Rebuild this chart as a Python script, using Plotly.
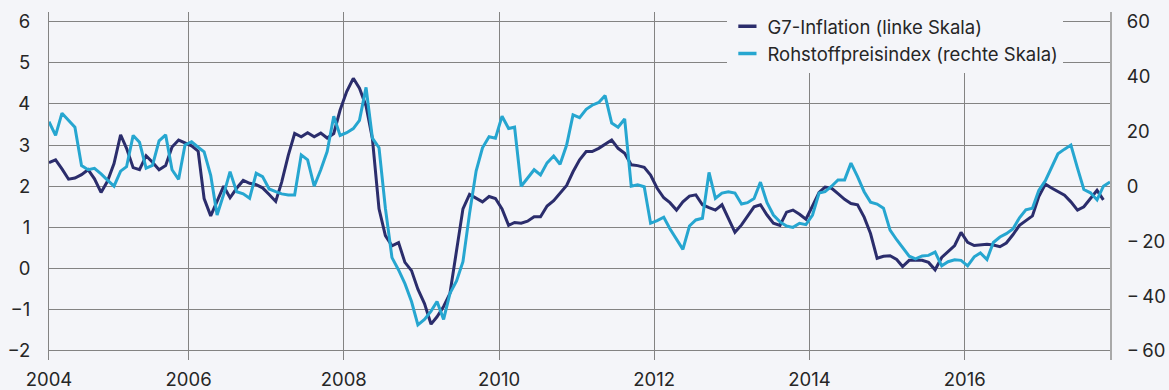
import pandas as pd
import plotly.graph_objects as go

# Monthly observations, March 2004 onwards (plotted mid-month)
inflation = [
    # 2004 (Mar-Dec)
    2.57, 2.64, 2.42, 2.17, 2.20, 2.28, 2.40, 2.18, 1.85, 2.12,
    # 2005
    2.55, 3.25, 2.92, 2.45, 2.40, 2.74, 2.58, 2.40, 2.50, 2.95, 3.12, 3.06,
    # 2006
    2.98, 2.85, 1.70, 1.28, 1.65, 2.00, 1.72, 1.95, 2.14, 2.07, 2.04, 1.96,
    # 2007
    1.80, 1.63, 2.10, 2.75, 3.28, 3.20, 3.30, 3.20, 3.29, 3.17, 3.28, 3.85,
    # 2008
    4.30, 4.62, 4.38, 3.95, 3.15, 1.45, 0.80, 0.55, 0.63, 0.15, -0.05, -0.50,
    # 2009
    -0.85, -1.35, -1.17, -0.92, -0.60, 0.50, 1.45, 1.80, 1.70, 1.62, 1.75, 1.70,
    # 2010
    1.45, 1.05, 1.12, 1.10, 1.15, 1.26, 1.26, 1.52, 1.65, 1.82, 2.02, 2.35,
    # 2011
    2.64, 2.84, 2.84, 2.92, 3.02, 3.12, 2.92, 2.80, 2.52, 2.50, 2.46, 2.27,
    # 2012
    1.95, 1.72, 1.60, 1.42, 1.62, 1.76, 1.79, 1.55, 1.48, 1.42, 1.55, 1.20,
    # 2013
    0.88, 1.06, 1.26, 1.50, 1.55, 1.30, 1.10, 1.05, 1.37, 1.42, 1.32, 1.20,
    # 2014
    1.52, 1.85, 1.98, 1.95, 1.82, 1.68, 1.58, 1.55, 1.25, 0.85, 0.25, 0.30,
    # 2015
    0.31, 0.22, 0.05, 0.20, 0.20, 0.20, 0.15, -0.03, 0.27, 0.42, 0.56, 0.88,
    # 2016
    0.64, 0.56, 0.58, 0.59, 0.57, 0.53, 0.62, 0.82, 1.05, 1.17, 1.28, 1.75,
    # 2017 (Jan-Oct)
    2.05, 1.95, 1.87, 1.78, 1.62, 1.42, 1.50, 1.70, 1.90, 1.67,
]

commodity = [
    # 2004 (Mar-Dec)
    23.5, 18.5, 26.6, 24.0, 21.5, 7.5, 6.0, 6.5, 4.5, 2.2,
    # 2005
    0.0, 5.5, 7.1, 18.5, 16.0, 6.6, 7.6, 16.5, 18.7, 6.0, 2.5, 15.0,
    # 2006
    16.2, 14.2, 12.5, 4.0, -10.5, -3.0, 5.3, -2.0, -2.8, -4.4, 4.7, 3.5,
    # 2007
    -1.0, -2.0, -2.8, -3.2, -3.2, 11.4, 9.6, 0.0, 6.0, 12.6, 25.5, 18.5,
    # 2008
    19.5, 21.0, 24.0, 36.0, 17.5, 14.0, -8.0, -26.0, -30.5, -35.5, -42.0, -50.5,
    # 2009
    -48.5, -45.5, -42.0, -48.5, -39.0, -34.5, -27.5, -10.0, 5.5, 14.0, 18.0, 17.5,
    # 2010
    25.5, 21.0, 21.5, 0.0, 3.0, 6.0, 4.1, 8.5, 11.0, 8.0, 15.0, 26.0,
    # 2011
    25.0, 28.0, 29.5, 30.5, 33.0, 23.0, 21.5, 24.5, 0.0, 0.5, -0.2, -13.5,
    # 2012
    -12.5, -11.3, -15.5, -19.5, -23.0, -14.5, -12.3, -11.7, 5.0, -4.4, -2.5, -2.0,
    # 2013
    -2.5, -6.5, -6.0, -4.5, 1.5, -6.0, -10.5, -13.0, -14.5, -15.0, -13.5, -14.0,
    # 2014
    -10.5, -2.5, -2.0, 0.0, 2.3, 2.3, 8.4, 3.5, -2.0, -5.8, -6.5, -8.0,
    # 2015
    -16.0, -19.5, -22.5, -25.5, -26.5, -25.4, -25.2, -24.0, -29.0, -27.5, -26.8, -27.0,
    # 2016
    -29.0, -25.7, -24.3, -26.7, -20.5, -18.5, -17.3, -15.6, -11.5, -8.6, -8.0, -1.5,
    # 2017 (Jan-Nov)
    2.0, 7.5, 11.8, 13.5, 15.0, 6.6, -1.2, -2.4, -5.0, 0.0, 1.5,
]

year_ticks = ["2004", "2006", "2008", "2010", "2012", "2014", "2016"]
left_ticks = [-2, -1, 0, 1, 2, 3, 4, 5, 6]
right_ticks = [-60, -40, -20, 0, 20, 40, 60]
right_tick_text = ["\u2212\u200960", "\u2212\u200940", "\u2212\u200920", "0", "20", "40", "60"]

series_names = ["G7-Inflation (linke Skala)", "Rohstoffpreisindex (rechte Skala)"]

NAVY = "#2b2d6c"
CYAN = "#26a6d0"
BG = "#f4f5f9"
GRID = "#838383"
TEXT = "#262626"
FONT = "Inter"
TICK_SIZE = 18.5

start = pd.Timestamp("2004-03-01")
dates_comm = pd.date_range(start, periods=len(commodity), freq="MS") + pd.Timedelta(days=14)
dates_infl = pd.date_range(start, periods=len(inflation), freq="MS") + pd.Timedelta(days=14)

tick_dates = [dates_comm[0]] + [pd.Timestamp(f"{y}-01-01") for y in year_ticks[1:]]

fig = go.Figure()

fig.add_trace(go.Scatter(
    x=dates_infl, y=inflation, mode="lines",
    line=dict(color=NAVY, width=3), name=series_names[0],
    showlegend=False, yaxis="y",
))
fig.add_trace(go.Scatter(
    x=dates_comm, y=commodity, mode="lines",
    line=dict(color=CYAN, width=3), name=series_names[1],
    showlegend=False, yaxis="y2",
))

# short dash keys for the legend
for name, color in zip(series_names, [NAVY, CYAN]):
    fig.add_trace(go.Scatter(
        x=[None], y=[None], mode="markers", name=name,
        marker=dict(symbol="line-ew", size=13, line=dict(color=color, width=3.5)),
        hoverinfo="skip",
    ))

fig.update_layout(
    width=1169, height=390,
    margin=dict(l=49, r=59, t=12, b=30, autoexpand=False),
    paper_bgcolor=BG, plot_bgcolor=BG,
    font=dict(family=FONT, size=TICK_SIZE, color=TEXT),
    xaxis=dict(
        type="date",
        range=[dates_comm[0], dates_comm[-1]],
        tickvals=tick_dates, ticktext=year_ticks,
        showgrid=True, gridcolor=GRID, gridwidth=1,
        showline=False, zeroline=False, ticks="",
        ticklabelstandoff=6,
        tickfont=dict(family=FONT, size=TICK_SIZE, color=TEXT),
    ),
    yaxis=dict(
        range=[-2.22, 6.23],
        tickvals=left_ticks,
        showgrid=True, gridcolor=GRID, gridwidth=1,
        zeroline=False, showline=True, linecolor=GRID, linewidth=1,
        ticks="", ticklabelstandoff=14,
        tickfont=dict(family=FONT, size=TICK_SIZE, color=TEXT),
    ),
    yaxis2=dict(
        overlaying="y", side="right",
        range=[-63.3, 63.45],
        tickvals=right_ticks, ticktext=right_tick_text,
        showgrid=False, zeroline=False,
        showline=True, linecolor="#a9a9a9", linewidth=2,
        ticks="", ticklabelstandoff=11,
        tickfont=dict(family=FONT, size=TICK_SIZE, color=TEXT),
    ),
    legend=dict(
        x=0.6394, xanchor="left",
        y=1.012, yanchor="top",
        bgcolor=BG, borderwidth=0,
        font=dict(family=FONT, size=18.5, color=TEXT),
        itemwidth=30,
    ),
)

fig.write_html("out.html")
